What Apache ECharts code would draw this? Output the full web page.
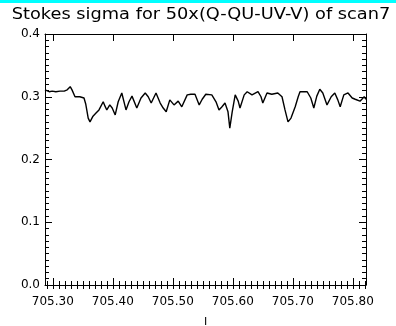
<!DOCTYPE html>
<html><head><meta charset="utf-8">
<script src="https://cdn.jsdelivr.net/npm/echarts@6/dist/echarts.min.js"></script>
<style>html,body{margin:0;padding:0;background:#fff}#c{width:396px;height:326px}</style>
</head><body><div id="c"></div>
<script>
var titleText = 'Stokes sigma for 50x(Q-QU-UV-V) of scan7';
var xTickValues = [705.30, 705.40, 705.50, 705.60, 705.70, 705.80];
var yTickLabels = ['0.0', '0.1', '0.2', '0.3', '0.4'];
var wavelength = [705.287,705.290,705.294,705.299,705.305,705.312,705.319,705.324,705.329,705.332,705.337,705.345,705.352,705.355,705.359,705.362,705.367,705.372,705.377,705.380,705.384,705.387,705.390,705.395,705.399,705.404,705.409,705.415,705.422,705.427,705.432,705.440,705.447,705.454,705.459,705.464,705.472,705.479,705.484,705.489,705.495,705.502,705.509,705.515,705.524,705.530,705.537,705.544,705.549,705.555,705.565,705.572,705.577,705.582,705.587,705.592,705.595,705.599,705.604,705.609,705.612,705.619,705.624,705.632,705.642,705.647,705.650,705.657,705.665,705.675,705.682,705.687,705.692,705.697,705.704,705.709,705.712,705.724,705.730,705.735,705.740,705.745,705.750,705.757,705.764,705.770,705.775,705.779,705.785,705.792,705.799,705.804,705.812,705.819,705.822];
var sigma = [0.311,0.314,0.308,0.309,0.308,0.309,0.309,0.311,0.316,0.311,0.300,0.300,0.298,0.288,0.266,0.260,0.269,0.274,0.279,0.276,0.292,0.285,0.279,0.287,0.282,0.271,0.292,0.306,0.279,0.292,0.301,0.282,0.298,0.306,0.300,0.290,0.306,0.290,0.282,0.276,0.295,0.287,0.293,0.284,0.303,0.304,0.304,0.287,0.296,0.304,0.303,0.292,0.279,0.284,0.290,0.276,0.250,0.276,0.303,0.293,0.282,0.303,0.308,0.303,0.308,0.300,0.290,0.306,0.304,0.306,0.300,0.279,0.260,0.266,0.284,0.300,0.308,0.308,0.298,0.282,0.301,0.312,0.306,0.287,0.300,0.306,0.295,0.284,0.303,0.306,0.298,0.296,0.293,0.300,0.296];

var data = wavelength.map(function(w, i){ return [w, sigma[i]]; });
var XMIN = 705.287, XMAX = 705.822;
var MINOR_MIN = 705.29, MINOR_MAX = 705.82, MINOR_STEP = 0.01;
var font = 'DejaVu Sans';

var L = 45, R = 366, T = 34, B = 285, W = 396, H = 326;
var pxPer = (R - L) / (XMAX - XMIN);
var mL = L + (MINOR_MIN - XMIN) * pxPer, mR = L + (MINOR_MAX - XMIN) * pxPer;

function ls() { return {color:'#000000', width:1, opacity:1}; }

function majorX(pos, labels, extra) {
  var a = {
    type:'value', gridIndex:0, position:pos, min:XMIN, max:XMAX,
    axisLine:{show:true, onZero:false, lineStyle:ls()},
    axisTick:{show:true, inside:true, length:7, customValues:xTickValues.slice(), lineStyle:ls()},
    axisLabel:{show:labels, customValues:xTickValues.slice(), color:'#000', fontFamily:font, fontSize:12, margin:11,
      formatter:function(v){ return v.toFixed(2); }},
    splitLine:{show:false}
  };
  if (extra) for (var key in extra) a[key] = extra[key];
  return a;
}
function minorXAx(pos) {
  return {
    type:'value', gridIndex:1, position:pos, min:MINOR_MIN, max:MINOR_MAX, interval:MINOR_STEP,
    axisLine:{show:false},
    axisTick:{show:true, inside:true, length:4, lineStyle:ls()},
    axisLabel:{show:false}, splitLine:{show:false}
  };
}
function yAx(grid, pos, labels, show) {
  return {
    type:'value', gridIndex:grid, position:pos, min:0, max:0.4, interval:0.1, show:show,
    axisLine:{show:true, onZero:false, lineStyle:ls()},
    axisTick:{show:true, inside:true, length:7, lineStyle:ls()},
    minorTick:{show:true, splitNumber:10, length:4, lineStyle:ls()},
    axisLabel:{show:labels, color:'#000', fontFamily:font, fontSize:12, margin:5,
      formatter:function(v){ return yTickLabels[Math.round(v*10)]; }},
    splitLine:{show:false}
  };
}
var chart = echarts.init(document.getElementById('c'));
chart.setOption({
  animation:false,
  backgroundColor:'#fff',
  graphic:[
    {type:'rect', left:0, top:0, shape:{width:396, height:3}, style:{fill:'#00ffff'}},
    {type:'text', x:201, y:15, scaleX:1.185, style:{text:titleText, font:'15px "DejaVu Sans"', fill:'#000', textAlign:'center', textVerticalAlign:'middle'}}
  ],
  grid:[
    {left:L, right:W-R, top:T, bottom:H-B, outerBoundsMode:'none'},
    {left:mL, right:W-mR, top:T, bottom:H-B, outerBoundsMode:'none'}
  ],
  xAxis:[
    majorX('bottom',true,{name:'I', nameLocation:'middle', nameGap:32, nameTextStyle:{fontFamily:font, fontSize:11, color:'#000'}}),
    majorX('top',false),
    minorXAx('bottom'),
    minorXAx('top')
  ],
  yAxis:[
    yAx(0,'left',true,true),
    yAx(0,'right',false,true),
    {type:'value', gridIndex:1, min:0, max:0.4, show:false},
    {type:'value', gridIndex:1, min:0, max:0.4, show:false}
  ],
  series:[{
    type:'line', xAxisIndex:0, yAxisIndex:0, data:data, showSymbol:false,
    lineStyle:{color:'#000', width:1.4}
  },{
    type:'line', xAxisIndex:2, yAxisIndex:2, data:[[MINOR_MIN,0]], showSymbol:false,
    lineStyle:{opacity:0}, silent:true
  }]
});
</script></body></html>
